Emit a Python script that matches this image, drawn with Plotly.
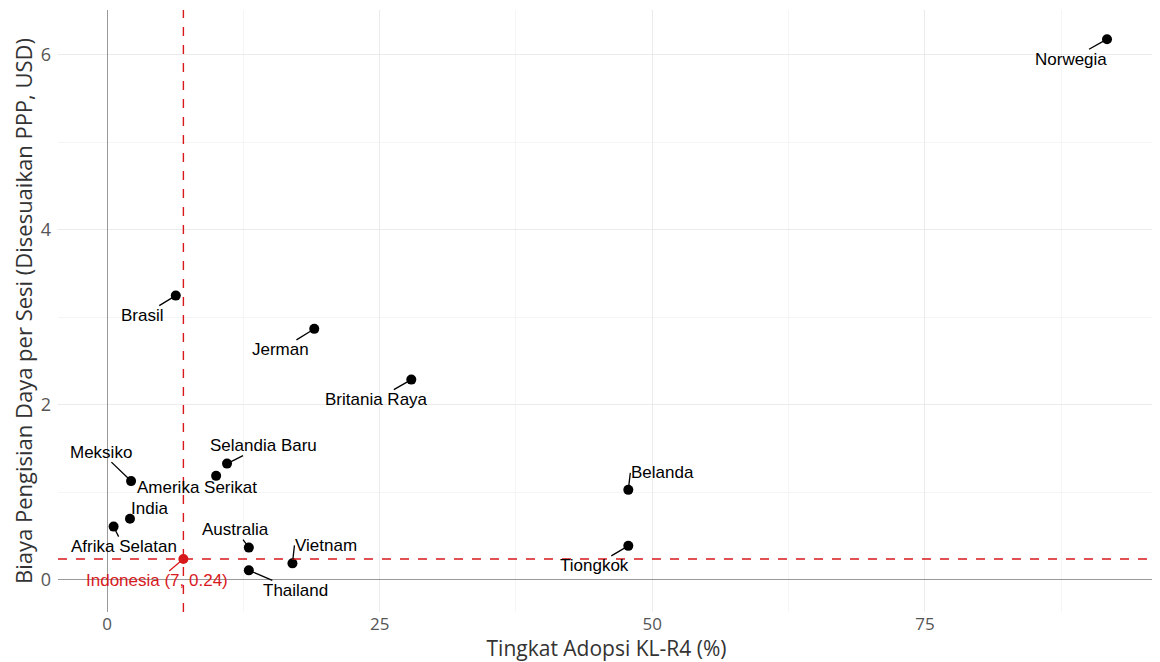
import plotly.graph_objects as go

countries = ["Norwegia", "Brasil", "Jerman", "Britania Raya", "Selandia Baru", "Amerika Serikat",
             "Meksiko", "India", "Afrika Selatan", "Indonesia", "Australia", "Vietnam",
             "Thailand", "Belanda", "Tiongkok"]
adoption = [91.7, 6.3, 19.0, 27.9, 11.0, 10.0, 2.2, 2.1, 0.6, 7.0, 13.0, 17.0, 13.0, 47.8, 47.8]
cost = [6.18, 3.25, 2.87, 2.29, 1.33, 1.19, 1.13, 0.70, 0.61, 0.24, 0.37, 0.19, 0.11, 1.03, 0.39]

ref_country = "Indonesia"
ref_x = 7
ref_y = 0.24

# label placement in pixels (offset of label anchor relative to point, and anchor)
label_offsets = {
    "Norwegia": (-36, 20, "auto"), "Brasil": (-33, 20, "auto"), "Jerman": (-34, 21, "auto"),
    "Britania Raya": (-35, 20, "auto"), "Selandia Baru": (36, -18, "auto"),
    "Amerika Serikat": (-19, 12, "auto"), "Meksiko": (-30, -29, "auto"),
    "India": (20, -10, "auto"), "Afrika Selatan": (10, 20, "auto"), "Indonesia": (-26, 22, "auto"),
    "Australia": (-13, -18, "auto"), "Vietnam": (2, -18, "left"), "Thailand": (47, 20, "auto"),
    "Belanda": (2, -17, "left"), "Tiongkok": (-34, 20, "auto"),
}

RED = "#d7191c"

fig = go.Figure()

others = [i for i, c in enumerate(countries) if c != ref_country]
idx = countries.index(ref_country)

fig.add_trace(go.Scatter(
    x=[adoption[i] for i in others], y=[cost[i] for i in others], mode="markers",
    marker=dict(color="black", size=10), hoverinfo="text",
    text=[countries[i] for i in others], showlegend=False))
fig.add_trace(go.Scatter(
    x=[adoption[idx]], y=[cost[idx]], mode="markers",
    marker=dict(color=RED, size=10), showlegend=False))

# reference lines
fig.add_vline(x=ref_x, line=dict(color=RED, dash="dash", width=1.4))
fig.add_hline(y=ref_y, line=dict(color=RED, dash="dash", width=1.4))

for i, c in enumerate(countries):
    dx, dy, anchor = label_offsets[c]
    is_ref = c == ref_country
    txt = f"{c} ({ref_x}, {ref_y})" if is_ref else c
    fig.add_annotation(
        x=adoption[i], y=cost[i], text=txt, showarrow=True,
        ax=dx, ay=dy, arrowhead=0, arrowwidth=1.3, standoff=4,
        xanchor=anchor,
        arrowcolor=RED if is_ref else "black",
        font=dict(family="Liberation Sans, Arial", size=17, color=RED if is_ref else "black"),
        borderpad=0)

fig.update_layout(
    width=1152, height=654, plot_bgcolor="white", paper_bgcolor="white",
    margin=dict(l=50, r=5, t=2, b=50),
    font=dict(family="Open Sans", color="#4d4d4d"),
    xaxis=dict(
        title=dict(text="Tingkat Adopsi KL-R4 (%)", font=dict(size=21, color="#333333"), standoff=1),
        range=[-4.5, 96.1], tickvals=[0, 25, 50, 75], tickfont=dict(size=17, color="#555555"),
        showgrid=True, gridcolor="#ebebeb", gridwidth=1, automargin=False,
        minor=dict(tickvals=[12.5, 37.5, 62.5, 87.5], showgrid=True, gridcolor="#f5f5f5"),
        zeroline=True, zerolinecolor="#999999", zerolinewidth=1.3, showline=False, ticks=""),
    yaxis=dict(
        title=dict(text="Biaya Pengisian Daya per Sesi (Disesuaikan PPP, USD)", font=dict(size=22, color="#333333"), standoff=10),
        range=[-0.366, 6.514], tickvals=[0, 2, 4, 6], tickfont=dict(size=18, color="#555555"),
        ticklabelstandoff=6,
        showgrid=True, gridcolor="#ebebeb", gridwidth=1, automargin=False,
        minor=dict(tickvals=[1, 3, 5], showgrid=True, gridcolor="#f5f5f5"),
        zeroline=True, zerolinecolor="#999999", zerolinewidth=1.3, showline=False, ticks=""),
)

fig.write_html("out.html")
